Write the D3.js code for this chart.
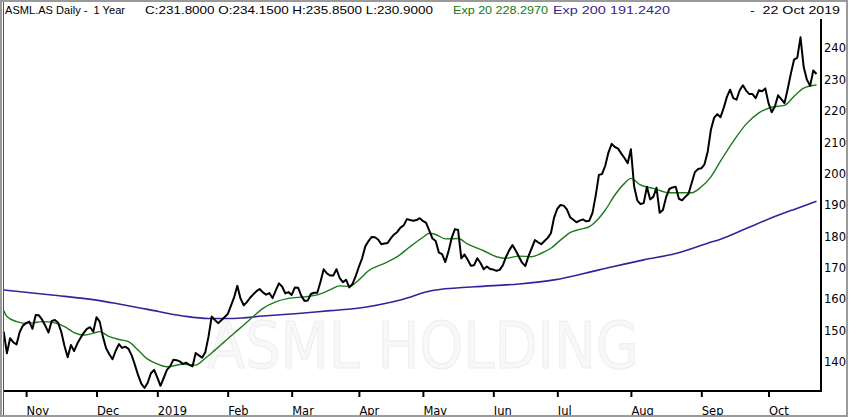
<!DOCTYPE html>
<html>
<head>
<meta charset="utf-8">
<script src="https://cdn.jsdelivr.net/npm/d3@7"></script>
<style>
  body { margin: 0; background: #fff; }
  #graf { width: 850px; height: 417px; }
  .hdr { font-family: "Liberation Sans", Arial, sans-serif; font-size: 11.5px; }
  .tk text { font-family: "DejaVu Sans", sans-serif; font-size: 11.5px; fill: #000; }
</style>
</head>
<body>
<div id="graf"></div>
<script>
// closes, one per trading day, 23 Oct 2018 .. 22 Oct 2019
const closes = [
  149.6, 142.7, 147.5, 146.2, 145.5, 149.5, 151.5, 152.3, 152.8, 150.5,
  154.9, 154.8, 153.4, 151.5, 149.3, 153.0, 153.3, 152.4, 149.5, 145.0,
  141.4, 145.3, 143.4, 145.8, 147.6, 149.2, 150.5, 151.0, 149.6, 154.2,
  152.8, 148.0, 144.3, 142.4, 140.8, 143.5, 145.6, 144.4, 144.8, 144.1,
  142.0, 139.0, 135.7, 133.0, 131.6, 133.3, 136.3, 137.4, 135.0, 132.3,
  134.8, 137.4, 138.5, 140.6, 140.5, 140.1, 139.3, 139.7, 139.0, 138.5,
  142.8, 142.0, 141.3, 143.0, 148.0, 154.4, 153.3, 152.3, 153.2, 154.2,
  155.2, 157.8, 160.5, 164.2, 160.2, 158.0, 159.0, 160.4, 161.5, 162.5,
  163.2, 162.1, 161.4, 161.9, 160.3, 162.7, 165.0, 164.0, 161.8, 162.2,
  161.3, 163.7, 163.6, 161.0, 159.4, 159.5, 161.6, 162.0, 162.0, 165.5,
  169.5, 168.2, 167.5, 167.5, 169.5, 166.7, 165.4, 166.1, 163.7, 164.8,
  167.3, 170.3, 173.0, 176.8, 178.5, 179.8, 179.7, 179.0, 177.5, 177.7,
  177.9, 179.4, 180.6, 181.4, 182.8, 183.5, 185.5, 185.2, 185.0, 185.2,
  185.8, 184.9, 184.3, 181.8, 179.3, 178.5, 174.8, 174.3, 171.8, 175.2,
  179.5, 182.3, 182.0, 173.0, 174.2, 172.5, 170.6, 170.8, 173.0, 171.5,
  169.5, 170.4, 169.6, 169.4, 169.0, 169.3, 170.8, 173.5, 175.6, 177.2,
  175.5, 173.5, 171.6, 170.5, 173.7, 176.2, 178.8, 178.1, 177.5, 178.5,
  179.5, 181.0, 186.0, 188.8, 190.0, 189.8, 188.6, 186.1, 185.3, 184.5,
  185.0, 185.4, 184.8, 185.0, 187.5, 193.0, 199.6, 199.9, 202.6, 206.8,
  209.5, 208.5, 208.0, 206.4, 205.0, 203.3, 207.8, 196.0, 191.5, 190.3,
  190.6, 195.8, 191.8, 192.6, 195.5, 187.5, 188.4, 192.5, 195.1, 195.6,
  195.8, 192.0, 191.5, 192.6, 193.6, 197.0, 200.5, 201.5, 201.7, 203.0,
  207.0, 214.0, 217.8, 219.0, 218.0, 221.0, 224.5, 226.8, 224.1, 223.6,
  226.6, 228.2, 226.5, 225.4, 225.4, 224.1, 226.6, 226.3, 227.2, 222.5,
  219.6, 221.4, 225.0, 223.8, 222.5, 227.0, 232.0, 236.4, 237.0, 243.5,
  234.0, 230.0, 228.0, 232.9, 231.8
]

// moving averages as drawn (day index, value)
const ema20Idx = [0, 1, 4, 6, 9, 12, 16, 19, 22, 25, 28, 30, 33, 36, 39, 42, 45, 48, 51, 56,
  60, 63, 66, 69, 72, 75, 78, 81, 85, 89, 94, 98, 102, 105, 108, 111, 114, 119, 123, 127,
  131, 133, 135, 138, 142, 145, 150, 154, 157, 161, 165, 168, 171, 174, 177, 180, 183, 186, 188, 191,
  194, 196, 199, 203, 208, 212, 215, 218, 221, 224, 228, 232, 236, 240, 244, 247, 250, 254]
const ema20Val = [156.3, 154.4, 152.8, 152.3, 152.4, 152.8, 152.4, 151.2, 149.3, 148.5, 149.1, 149.6, 148.0, 147.1, 146.4, 143.7, 140.8, 139.3, 138.4, 139.2,
  138.9, 141.1, 143.7, 146.4, 149.1, 151.7, 154.4, 157.0, 159.1, 160.2, 160.7, 161.3, 162.9, 164.2, 164.0, 166.1, 169.0, 171.4, 173.5, 176.7,
  179.7, 181.0, 180.6, 179.2, 179.3, 177.5, 175.4, 173.5, 173.0, 173.7, 173.5, 174.6, 176.2, 178.8, 181.2, 182.2, 183.1, 185.8, 188.4, 193.2,
  196.9, 198.5, 196.4, 195.3, 193.9, 193.9, 193.9, 195.8, 199.0, 204.0, 210.3, 215.8, 219.4, 221.2, 221.8, 224.7, 227.3, 228.3]

const ema200Idx = [0, 15, 30, 36, 45, 56, 64, 72, 81, 92, 102, 110, 124, 134, 147, 161, 172, 186, 200, 210, 220, 224, 232, 240, 247, 254]
const ema200Val = [162.9, 161.3, 159.5, 158.4, 156.7, 154.6, 153.8, 153.8, 154.6, 155.4, 156.3, 157.0, 159.7, 162.7, 163.9, 164.8, 166.1, 169.3, 172.5, 174.5, 177.8, 179.1, 182.5, 185.9, 188.6, 191.2]

const monthIdx = [7, 29, 48, 70, 90, 111, 131, 153, 173, 196, 218, 239]
const monthLabels = ['Nov', 'Dec', '2019', 'Feb', 'Mar', 'Apr', 'May', 'Jun', 'Jul', 'Aug', 'Sep', 'Oct']
const yTicks = [140, 150, 160, 170, 180, 190, 200, 210, 220, 230, 240]

const ancho = 850
const alto = 417
const izq = 3
const der = 821
const arriba = 19
const abajo = 391

const svg = d3.select('#graf')
  .append('svg')
  .attr('width', ancho)
  .attr('height', alto)

const x = d3.scaleLinear().domain([0, closes.length - 1]).range([3.7, 816.5])
const y = d3.scaleLinear().domain([140, 240]).range([361.7, 48.3])

// watermark
svg.append('text')
  .attr('x', 207)
  .attr('y', 368)
  .attr('textLength', 432)
  .attr('lengthAdjust', 'spacingAndGlyphs')
  .style('font-family', '"DejaVu Sans", sans-serif')
  .style('font-size', '64px')
  .style('fill', '#f8f8f8')
  .style('stroke', '#ededed')
  .style('stroke-width', 1)
  .text('ASML HOLDING')

const linea = d3.line().x(d => x(d[0])).y(d => y(d[1]))
const suave = d3.line().x(d => x(d[0])).y(d => y(d[1])).curve(d3.curveMonotoneX)

svg.append('path')
  .datum(ema200Idx.map((d, i) => [d, ema200Val[i]]))
  .attr('d', suave)
  .attr('fill', 'none')
  .attr('stroke', '#3b1f9a')
  .attr('stroke-width', 1.6)

svg.append('path')
  .datum(ema20Idx.map((d, i) => [d, ema20Val[i]]))
  .attr('d', suave)
  .attr('fill', 'none')
  .attr('stroke', '#1c7a1c')
  .attr('stroke-width', 1.4)

svg.append('path')
  .datum(closes.map((d, i) => [i, d]))
  .attr('d', linea)
  .attr('fill', 'none')
  .attr('stroke', '#000')
  .attr('stroke-width', 2)
  .attr('stroke-linejoin', 'round')

// axes
const yAxis = d3.axisRight(y).tickValues(yTicks).tickSize(0).tickPadding(3)
svg.append('g')
  .attr('class', 'tk')
  .attr('transform', `translate(${der}, 0)`)
  .call(yAxis)
  .call(g => g.select('.domain').remove())

const xAxis = d3.axisBottom(x).tickValues(monthIdx).tickFormat((d, i) => monthLabels[i]).tickSize(6).tickPadding(10)
svg.append('g')
  .attr('class', 'tk')
  .attr('transform', `translate(0, ${abajo})`)
  .call(xAxis)
  .call(g => g.select('.domain').remove())
  .call(g => g.selectAll('.tick line').attr('stroke', '#000').attr('stroke-width', 2))
  .call(g => g.selectAll('.tick text').attr('text-anchor', 'start').attr('x', 0))

svg.append('line')
  .attr('x1', izq).attr('x2', der + 1)
  .attr('y1', abajo).attr('y2', abajo)
  .attr('stroke', '#000').attr('stroke-width', 2)

svg.append('line')
  .attr('x1', der).attr('x2', der)
  .attr('y1', arriba).attr('y2', abajo)
  .attr('stroke', '#000').attr('stroke-width', 2)

// frame
svg.append('rect')
  .attr('x', 1).attr('y', 1)
  .attr('width', ancho - 4).attr('height', alto - 2)
  .attr('fill', 'none')
  .attr('stroke', '#9a9a9a')
  .attr('stroke-width', 2)

svg.append('line')
  .attr('x1', izq + 0.5).attr('x2', izq + 0.5)
  .attr('y1', 2).attr('y2', alto - 2)
  .attr('stroke', '#555').attr('stroke-width', 1)

// header, pieces placed where they sit in the original (\u00a0 keeps the double spaces)
const hdr = svg.append('g').attr('class', 'hdr')
const piezas = [
  { t: 'ASML.AS Daily -\u00a0\u00a01 Year', x: 5, w: 120, c: '#000' },
  { t: 'C:231.8000 O:234.1500 H:235.8500 L:230.9000', x: 145, w: 288, c: '#000' },
  { t: 'Exp 20 228.2970', x: 453, w: 95, c: '#137a13' },
  { t: 'Exp 200 191.2420', x: 553, w: 117, c: '#3b1f8a' },
  { t: '-\u00a0\u00a022 Oct 2019', x: 750, w: 90, c: '#000' }
]
hdr.selectAll('text')
  .data(piezas)
  .enter()
  .append('text')
  .attr('x', d => d.x)
  .attr('y', 14)
  .attr('textLength', d => d.w)
  .attr('lengthAdjust', 'spacingAndGlyphs')
  .style('fill', d => d.c)
  .text(d => d.t)
</script>
</body>
</html>
